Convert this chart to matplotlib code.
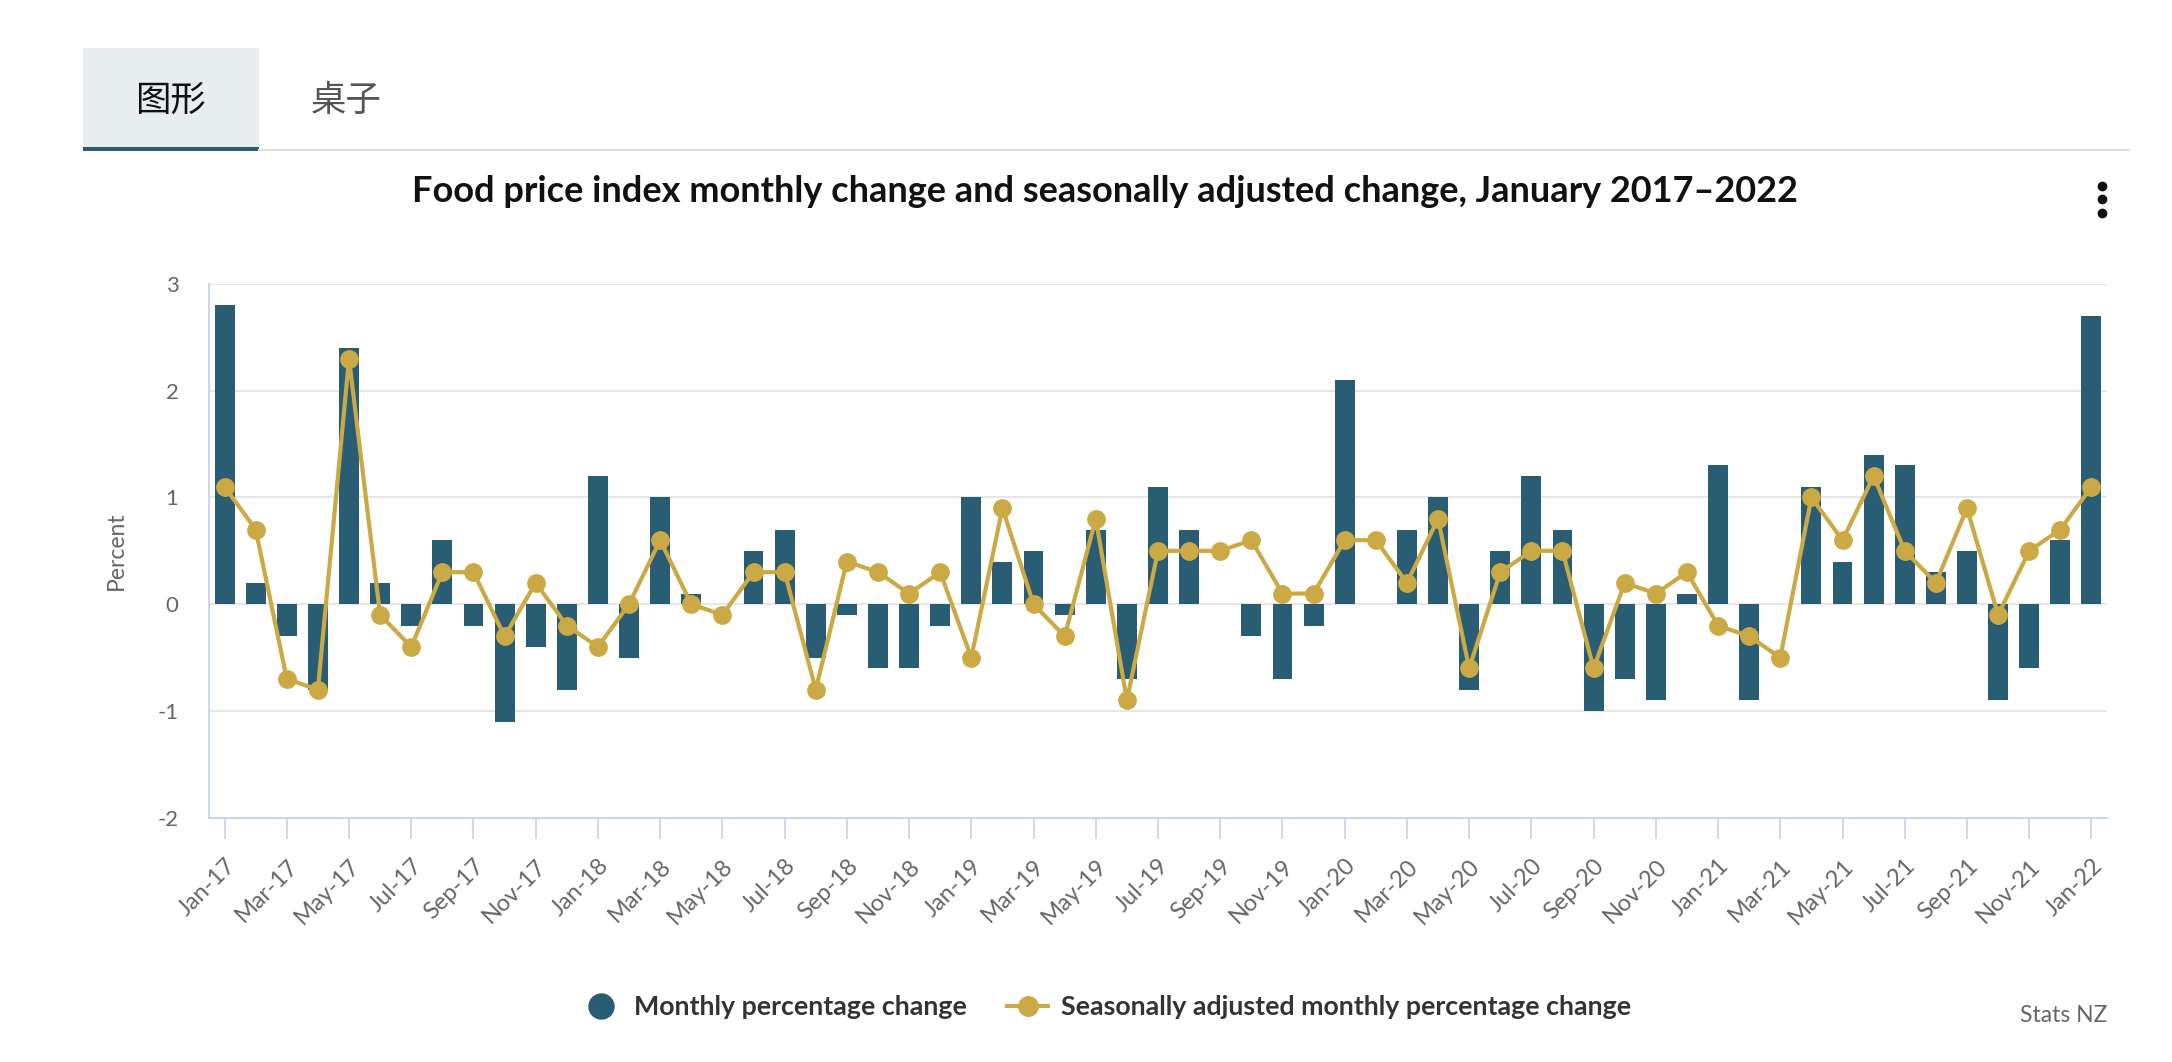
import matplotlib
matplotlib.use("Agg")
import matplotlib.pyplot as plt
from matplotlib.patches import Rectangle
from matplotlib.lines import Line2D

plt.rcParams['font.family'] = ['Lato', 'Noto Sans CJK SC', 'DejaVu Sans']

# --------------------------
# Data (percent)
# --------------------------
month_names = ["Jan", "Feb", "Mar", "Apr", "May", "Jun",
               "Jul", "Aug", "Sep", "Oct", "Nov", "Dec"]
months = [f"{m}-{y}" for y in range(17, 22) for m in month_names] + ["Jan-22"]

monthly_change = [
    2.8, 0.2, -0.3, -0.8, 2.4, 0.2, -0.2, 0.6, -0.2, -1.1, -0.4, -0.8,   # 2017
    1.2, -0.5, 1.0, 0.1, 0.0, 0.5, 0.7, -0.5, -0.1, -0.6, -0.6, -0.2,    # 2018
    1.0, 0.4, 0.5, -0.1, 0.7, -0.7, 1.1, 0.7, 0.0, -0.3, -0.7, -0.2,     # 2019
    2.1, 0.0, 0.7, 1.0, -0.8, 0.5, 1.2, 0.7, -1.0, -0.7, -0.9, 0.1,      # 2020
    1.3, -0.9, 0.0, 1.1, 0.4, 1.4, 1.3, 0.3, 0.5, -0.9, -0.6, 0.6,       # 2021
    2.7,                                                                  # 2022
]
seasonal_change = [
    1.1, 0.7, -0.7, -0.8, 2.3, -0.1, -0.4, 0.3, 0.3, -0.3, 0.2, -0.2,
    -0.4, 0.0, 0.6, 0.0, -0.1, 0.3, 0.3, -0.8, 0.4, 0.3, 0.1, 0.3,
    -0.5, 0.9, 0.0, -0.3, 0.8, -0.9, 0.5, 0.5, 0.5, 0.6, 0.1, 0.1,
    0.6, 0.6, 0.2, 0.8, -0.6, 0.3, 0.5, 0.5, -0.6, 0.2, 0.1, 0.3,
    -0.2, -0.3, -0.5, 1.0, 0.6, 1.2, 0.5, 0.2, 0.9, -0.1, 0.5, 0.7,
    1.1,
]
y_ticks = [-2, -1, 0, 1, 2, 3]

BAR = "#285d74"
GOLD = "#cba945"
AXIS = "#ccd6eb"
GRID = "#e6e6e6"

W, H = 2172, 1062


def fx(px):
    return px / W


def fy(py):
    return 1 - py / H


fig = plt.figure(figsize=(W / 100, H / 100), dpi=100)

# --------------------------
# Tabs
# --------------------------
fig.add_artist(Rectangle((fx(83), fy(147)), fx(259) - fx(83), fy(48) - fy(147),
                         transform=fig.transFigure, color="#e8edf0", lw=0))
fig.add_artist(Line2D([fx(259), fx(2129)], [fy(150), fy(150)],
                      transform=fig.transFigure, color="#dddddd", lw=1.5))
fig.add_artist(Rectangle((fx(83), fy(151)), fx(259) - fx(83), fy(147) - fy(151),
                         transform=fig.transFigure, color="#2b5c72", lw=0))
fig.text(fx(170), fy(101), "图形", ha="center", va="center", fontsize=25.5,
         color="#111111", family=['Noto Sans CJK SC', 'DejaVu Sans'])
fig.text(fx(346), fy(101), "桌子", ha="center", va="center", fontsize=25.5,
         color="#555555", family=['Noto Sans CJK SC', 'DejaVu Sans'])

# title and menu dots
fig.text(fx(1105), fy(192),
         "Food price index monthly change and seasonally adjusted change, January 2017\u20132022",
         ha="center", va="center", fontsize=26, fontweight="bold", color="#111111")
fig.add_artist(Line2D([fx(2102)] * 3, [fy(186), fy(199), fy(213)],
                      transform=fig.transFigure, ls="none", marker="o",
                      ms=6, color="#111111"))

# --------------------------
# Chart
# --------------------------
ax = fig.add_axes([fx(209), fy(817.7), fx(2107) - fx(209), fy(284) - fy(817.7)])
x = list(range(len(months)))

ax.bar(x, monthly_change, width=0.64, color=BAR, zorder=2)
ax.plot(x, seasonal_change, color=GOLD, lw=3, marker="o", ms=12.5, zorder=3)

ax.set_xlim(-0.5, len(months) - 0.5)
ax.set_ylim(-2, 3)
ax.set_yticks(y_ticks)
ax.set_yticklabels([str(v) for v in y_ticks])
ax.yaxis.grid(True, color=GRID, lw=1.4, zorder=0)
ax.set_axisbelow(True)

for s in ("top", "right"):
    ax.spines[s].set_visible(False)
for s in ("left", "bottom"):
    ax.spines[s].set_color(AXIS)
    ax.spines[s].set_linewidth(1.5)

ax.set_xticks(x[::2])
ax.set_xticklabels(months[::2], rotation=45, ha="right", rotation_mode="anchor")
ax.tick_params(axis="x", length=15, width=1.3, color=AXIS, pad=12,
               labelsize=17, labelcolor="#666666")
ax.tick_params(axis="y", length=0, pad=22, labelsize=16, labelcolor="#666666")

ax.set_ylabel("Percent", fontsize=16.5, color="#666666")
ax.yaxis.set_label_coords((127 - 209) / (2107 - 209), 0.5)

# legend
handles = [
    Line2D([], [], ls="none", marker="o", ms=18, color=BAR),
    Line2D([], [], color=GOLD, lw=3, marker="o", ms=14),
]
fig.legend(handles, ["Monthly percentage change",
                     "Seasonally adjusted monthly percentage change"],
           loc="center", bbox_to_anchor=(fx(1106), fy(1007)), ncol=2,
           frameon=False, handlelength=1.5, columnspacing=1.5, handletextpad=0.5,
           prop={"weight": "bold", "size": 19.3}, labelcolor="#333333")

fig.text(fx(2107), fy(1015), "Stats NZ", ha="right", va="center",
         fontsize=16.5, color="#666666")

fig.savefig("out.png", dpi=100, facecolor="white")
